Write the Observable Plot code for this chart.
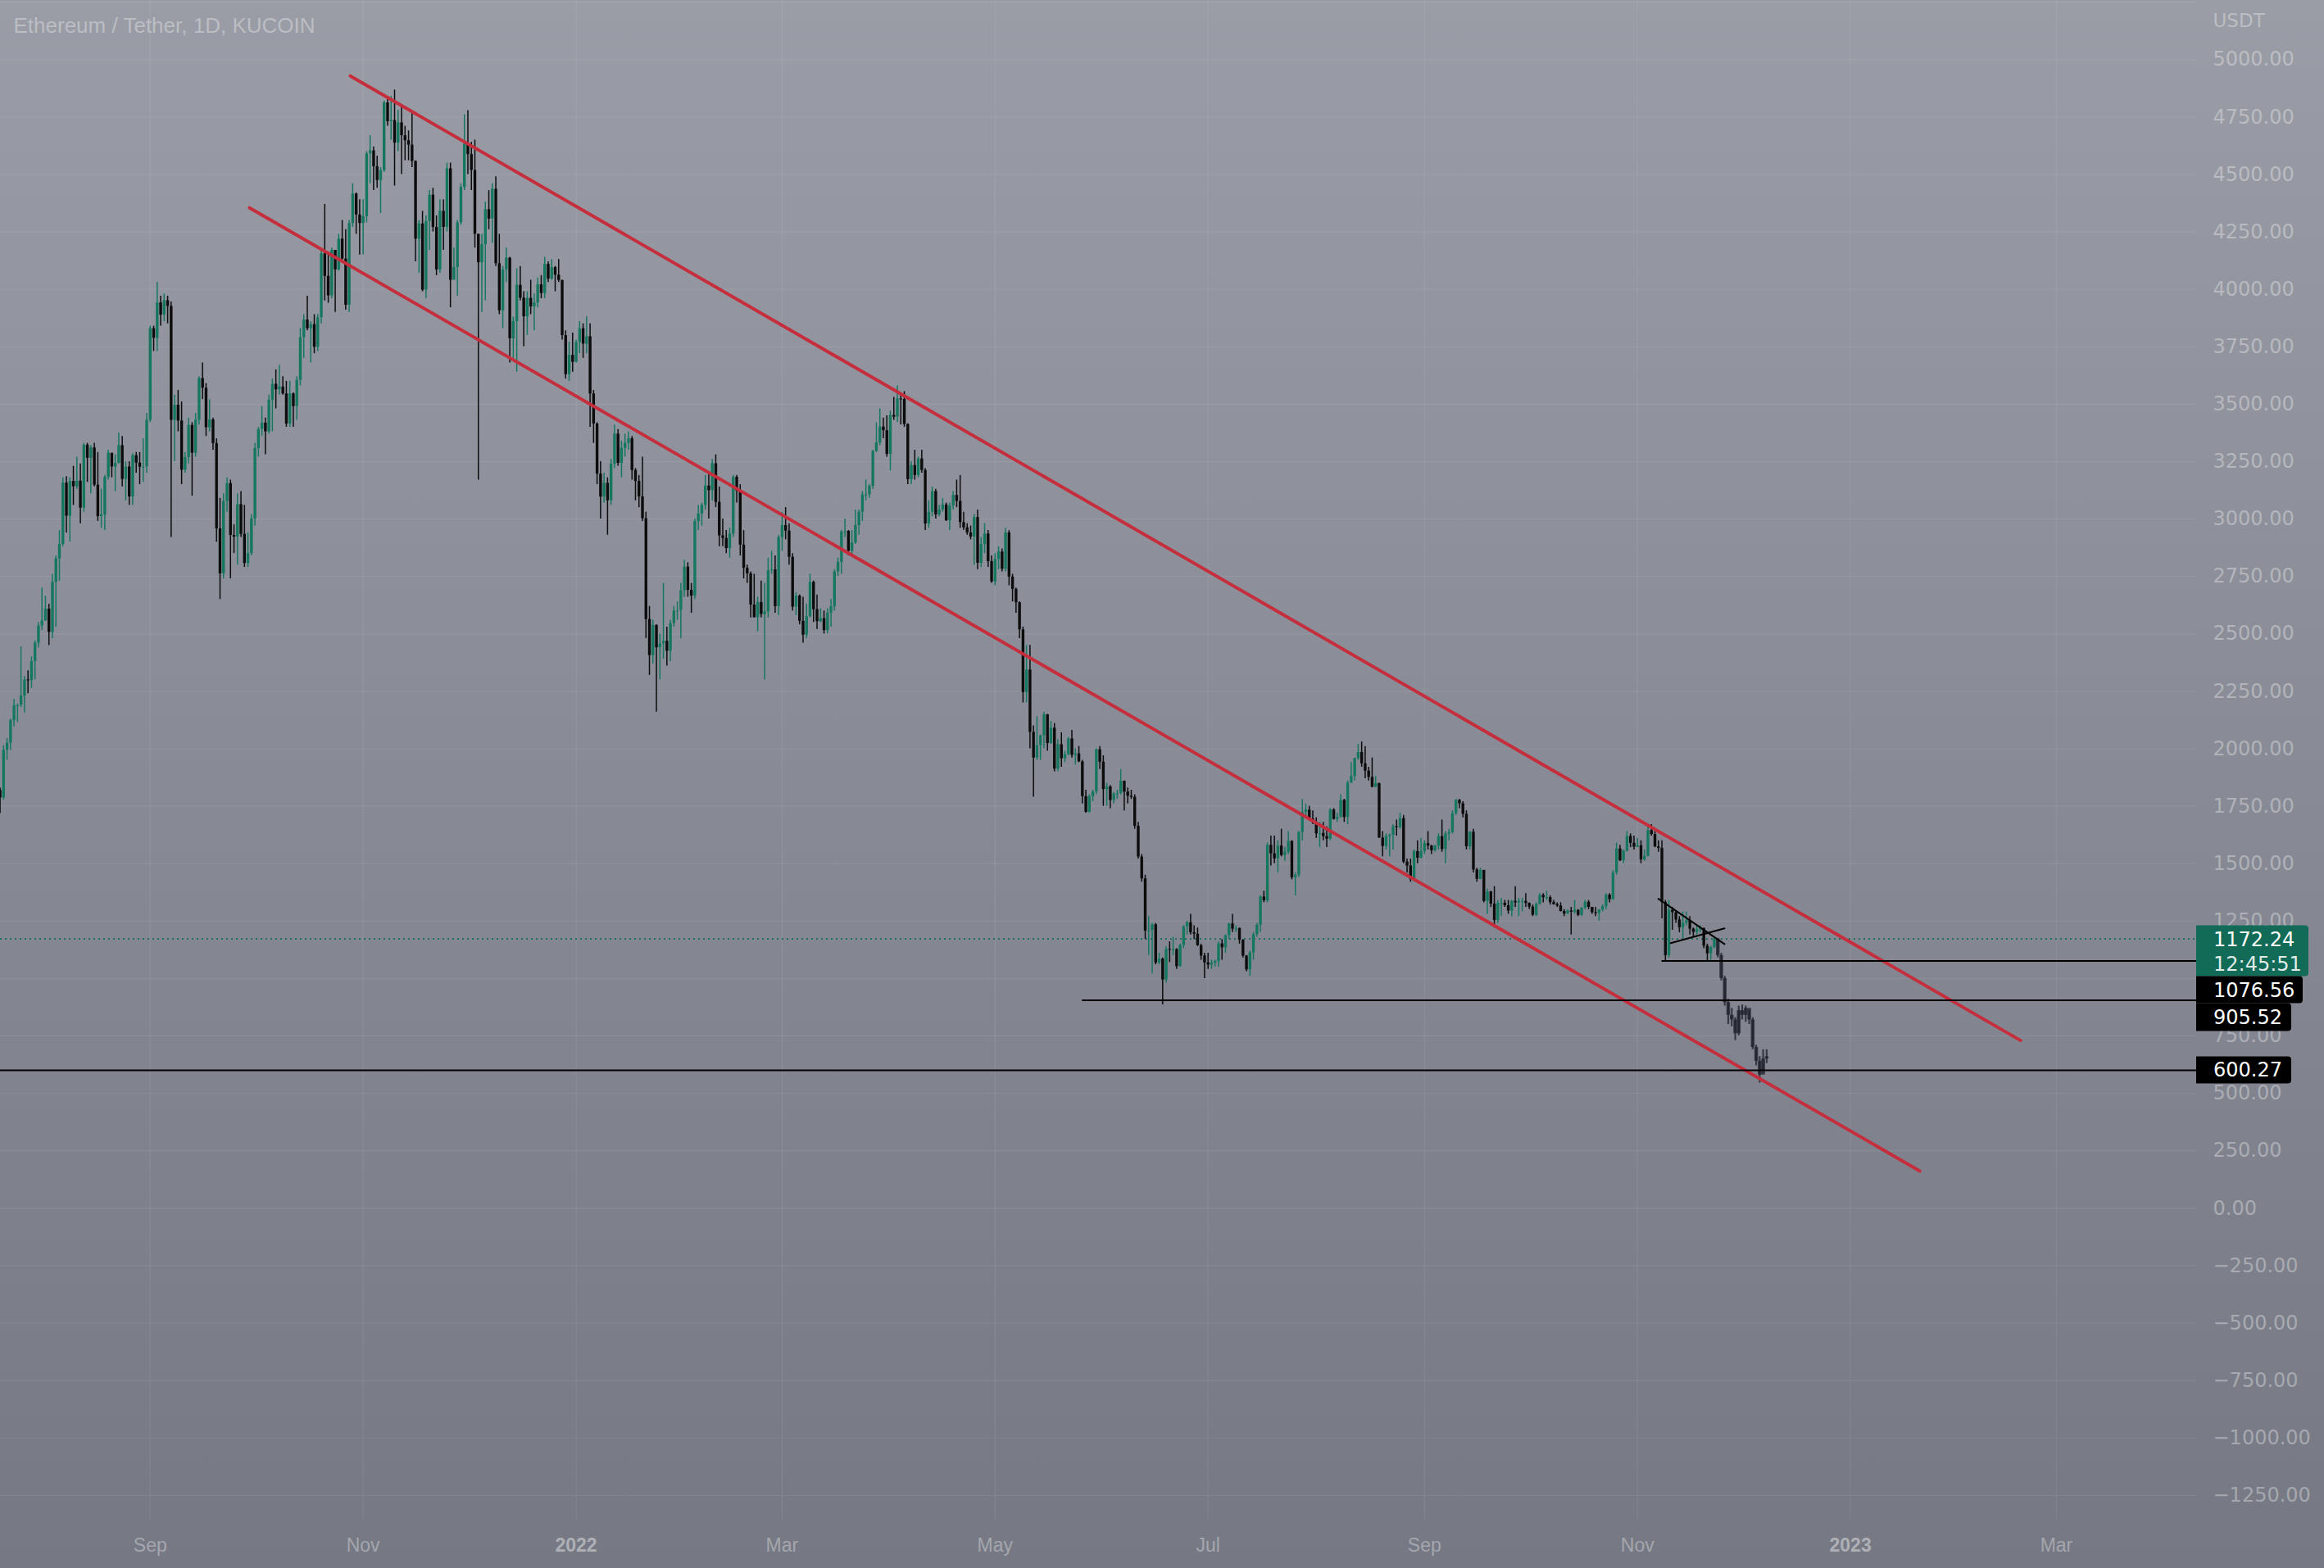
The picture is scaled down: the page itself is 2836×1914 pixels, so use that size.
<!DOCTYPE html>
<html><head><meta charset="utf-8">
<script src="https://cdn.jsdelivr.net/npm/d3@7"></script>
<script src="https://cdn.jsdelivr.net/npm/@observablehq/plot@0.6"></script>
<style>
html,body{margin:0;padding:0;}
body{width:2836px;height:1914px;overflow:hidden;background:linear-gradient(#9a9da6,#767984);}
#chart{position:absolute;left:0;top:0;}
</style></head>
<body><div id="chart"></div>
<script>
// ---------- DATA ----------
const title = "Ethereum / Tether, 1D, KUCOIN";
const currency = "USDT";
const firstDate = "2021-07-20";
const firstOpen = 1819;
// daily candles: [high, low, close]; open = previous close
const jul2021 = [[1830,1718,1786],[2013,1777,1994],[2045,1950,2025],[2130,1993,2123],[2215,2095,2188],[2195,2115,2190],[2444,2180,2230],[2315,2156,2300],[2340,2240,2297],[2400,2263,2380],[2470,2300,2460],[2550,2440,2535]];
const aug2021 = [[2700,2515,2557],[2665,2555,2608],[2630,2450,2507],[2760,2480,2725],[2840,2530,2827],[2950,2730,2890],[3180,2880,3157],[3185,2940,3013],[3180,2900,3164],[3230,3060,3141],[3270,3130,3165],[3240,2980,3048],[3330,3030,3322],[3330,3160,3265],[3320,3110,3310],[3330,3140,3148],[3290,2990,3011],[3130,2960,3018],[3190,2950,3182],[3300,3170,3287],[3280,3180,3227],[3280,3120,3243],[3375,3240,3320],[3360,3140,3173],[3250,3080,3227],[3250,3060,3097],[3285,3060,3276],[3290,3200,3244],[3290,3150,3226],[3350,3160,3228],[3460,3200,3430]];
const sep2021 = [[3840,3420,3829],[3840,3730,3787],[4030,3730,3941],[3970,3840,3888],[3980,3860,3951],[3970,3850,3926],[3945,2920,3430],[3540,3250,3496],[3560,3380,3427],[3510,3150,3213],[3290,3200,3268],[3440,3240,3408],[3420,3100,3287],[3460,3270,3431],[3620,3410,3612],[3680,3520,3570],[3590,3360,3398],[3520,3380,3432],[3440,3300,3329],[3350,2900,2958],[3090,2650,2762],[3110,2740,3077],[3180,3030,3155],[3170,2740,2929],[2975,2850,2922],[3110,2800,3063],[3120,2920,2934],[3060,2790,2807],[2940,2790,2850],[3020,2840,3001]];
const oct2021 = [[3330,2970,3307],[3400,3270,3390],[3490,3360,3418],[3440,3280,3380],[3540,3370,3518],[3610,3380,3587],[3650,3480,3563],[3670,3540,3575],[3620,3540,3545],[3600,3400,3414],[3600,3400,3545],[3550,3400,3490],[3620,3430,3604],[3830,3580,3790],[3890,3700,3867],[3970,3820,3829],[3860,3680,3847],[3890,3720,3748],[3890,3730,3877],[4170,3850,4155],[4370,3950,4057],[4160,3940,3972],[4180,3960,4170],[4170,3900,4085],[4240,4080,4219],[4300,4120,4132],[4260,3910,3931],[4300,3900,4287],[4460,4270,4415],[4420,4240,4324],[4390,4150,4287]];
const nov2021 = [[4390,4150,4317],[4600,4290,4590],[4670,4460,4603],[4620,4430,4534],[4580,4440,4474],[4530,4330,4517],[4820,4510,4812],[4830,4710,4730],[4840,4650,4735],[4868,4450,4637],[4780,4600,4725],[4800,4500,4669],[4710,4560,4647],[4690,4560,4628],[4770,4530,4557],[4560,4120,4219],[4300,4070,4285],[4340,3990,3997],[4320,3960,4296],[4430,4170,4410],[4440,4250,4270],[4320,4060,4085],[4390,4070,4340],[4390,4170,4270],[4550,4250,4525],[4550,3920,4040],[4180,4040,4095],[4300,3970,4290],[4460,4280,4445],[4760,4430,4632]];
const dec2021 = [[4778,4500,4587],[4640,4430,4518],[4650,4180,4240],[4240,3170,4116],[4240,3900,4195],[4380,3950,4347],[4430,4260,4306],[4460,4200,4436],[4490,4100,4112],[4240,3890,3907],[4100,3830,4085],[4180,4030,4136],[4140,3680,3785],[3880,3700,3860],[4090,3640,4018],[4100,3950,3962],[3990,3750,3881],[3990,3800,3961],[4040,3890,3924],[3980,3820,3941],[4050,3920,4020],[4060,3960,3982],[4140,3960,4109],[4120,4030,4045],[4130,4040,4095],[4100,3990,4062],[4130,4030,4039],[4040,3780,3799],[3820,3610,3629],[3770,3600,3713],[3810,3640,3683]];
const jan2022 = [[3780,3680,3769],[3860,3720,3829],[3850,3700,3762],[3880,3720,3794],[3850,3400,3545],[3560,3330,3414],[3420,3150,3196],[3250,3000,3096],[3200,3070,3156],[3180,2930,3080],[3260,3060,3239],[3410,3220,3370],[3390,3230,3243],[3340,3180,3308],[3370,3270,3330],[3380,3300,3350],[3360,3170,3212],[3220,3080,3164],[3190,3050,3097],[3270,2990,3002],[3030,2480,2563],[2620,2320,2406],[2560,2370,2537],[2540,2160,2440],[2500,2300,2457],[2720,2390,2468],[2530,2360,2425],[2560,2380,2545],[2620,2530,2600],[2640,2560,2603],[2720,2480,2688]];
const feb2022 = [[2820,2660,2791],[2810,2660,2690],[2720,2590,2665],[3000,2650,2989],[3060,2950,3022],[3070,2970,3060],[3190,3040,3144],[3200,3000,3124],[3260,3080,3241],[3280,3050,3073],[3140,2880,2927],[3000,2880,2916],[2950,2850,2872],[2960,2830,2935],[3190,2920,3182],[3190,3070,3122],[3150,2840,2887],[2950,2740,2786],[2800,2720,2762],[2770,2570,2626],[2760,2570,2571],[2660,2510,2637],[2730,2570,2585],[2720,2300,2596],[2830,2570,2775],[2860,2760,2779],[2840,2590,2619],[2930,2580,2920]];
const mar2022 = [[3030,2860,2972],[3050,2910,2948],[2980,2800,2834],[2850,2600,2617],[2680,2580,2665],[2670,2540,2555],[2660,2460,2495],[2630,2480,2575],[2760,2570,2725],[2730,2550,2606],[2670,2520,2554],[2610,2550,2567],[2600,2500,2515],[2610,2500,2591],[2650,2530,2619],[2780,2600,2770],[2830,2750,2812],[2950,2760,2944],[3000,2920,2947],[2950,2840,2860],[2950,2840,2896],[3040,2890,2972],[3040,2930,3030],[3120,2990,3105],[3170,3080,3106],[3150,3090,3143],[3300,3130,3295],[3420,3290,3332],[3480,3320,3401],[3440,3350,3385],[3450,3270,3282]];
const apr2022 = [[3470,3210,3451],[3530,3430,3444],[3580,3420,3523],[3540,3410,3521],[3555,3400,3412],[3415,3150,3172],[3250,3150,3233],[3300,3170,3190],[3270,3180,3262],[3300,3200,3212],[3220,2950,2979],[3080,2960,3030],[3140,3010,3120],[3130,3000,3019],[3060,3010,3040],[3090,3030,3062],[3070,2990,2993],[3070,2950,3058],[3120,3040,3103],[3170,3050,3077],[3190,2960,2985],[3030,2950,2962],[2980,2930,2940],[2970,2910,2922],[3020,2800,3007],[3040,2780,2808],[2920,2790,2889],[2980,2850,2935],[2950,2790,2815],[2840,2720,2727]];
const may2022 = [[2850,2710,2825],[2880,2780,2857],[2870,2770,2782],[2960,2770,2940],[2950,2710,2748],[2760,2640,2694],[2700,2590,2636],[2640,2480,2518],[2530,2200,2245],[2450,2200,2343],[2450,2000,2072],[2100,1790,1960],[2140,1950,2014],[2060,1950,2057],[2160,2000,2148],[2150,1990,2023],[2120,2020,2090],[2110,1900,1912],[2040,1900,2018],[2070,1920,1957],[1990,1940,1975],[2050,1970,2043],[2080,1960,1972],[2000,1930,1978],[2010,1940,1943],[1950,1760,1792],[1820,1720,1724],[1800,1720,1792],[1820,1770,1813],[2000,1800,1996],[2010,1910,1942]];
const jun2022 = [[1970,1750,1823],[1850,1750,1834],[1840,1740,1775],[1810,1760,1804],[1820,1780,1806],[1910,1800,1859],[1860,1730,1812],[1830,1760,1794],[1820,1780,1789],[1800,1650,1663],[1680,1520,1529],[1540,1420,1434],[1450,1170,1207],[1270,1100,1210],[1240,1020,1234],[1240,1060,1068],[1110,1060,1085],[1090,886,994],[1140,980,1127],[1160,1070,1126],[1180,1100,1126],[1130,1040,1052],[1150,1050,1144],[1230,1130,1225],[1250,1190,1243],[1280,1190,1199],[1230,1170,1193],[1220,1140,1143],[1150,1080,1098],[1110,1000,1068]];
const jul2022 = [[1110,1040,1059],[1080,1040,1067],[1080,1050,1074],[1160,1050,1151],[1170,1080,1134],[1190,1110,1187],[1240,1170,1238],[1280,1200,1215],[1230,1200,1218],[1220,1150,1167],[1170,1090,1098],[1100,1030,1038],[1120,1010,1112],[1200,1080,1191],[1240,1180,1232],[1360,1200,1355],[1380,1330,1339],[1590,1330,1580],[1620,1490,1543],[1620,1500,1521],[1600,1460,1577],[1650,1530,1536],[1570,1510,1550],[1640,1540,1597],[1600,1430,1439],[1460,1360,1450],[1640,1440,1636],[1780,1600,1724],[1760,1700,1733],[1750,1690,1695],[1730,1670,1679]];
const aug2022 = [[1700,1610,1630],[1680,1570,1632],[1680,1600,1618],[1660,1570,1607],[1740,1600,1734],[1740,1690,1693],[1720,1680,1701],[1800,1700,1776],[1780,1680,1701],[1860,1670,1851],[1940,1850,1880],[1960,1860,1958],[2020,1950,1984],[2030,1920,1935],[2010,1870,1903],[1920,1860,1876],[1960,1830,1833],[1880,1830,1849],[1850,1610,1612],[1640,1530,1575],[1630,1560,1619],[1630,1530,1624],[1670,1560,1661],[1690,1620,1657],[1720,1650,1696],[1710,1500,1507],[1520,1460,1490],[1520,1420,1431],[1560,1420,1553],[1600,1500,1524],[1610,1520,1553]];
const sep2022 = [[1600,1540,1587],[1640,1560,1577],[1580,1540,1556],[1580,1550,1577],[1630,1560,1618],[1690,1550,1562],[1640,1500,1629],[1650,1600,1635],[1730,1630,1718],[1780,1710,1776],[1780,1740,1761],[1770,1700,1715],[1730,1560,1574],[1640,1560,1637],[1650,1460,1473],[1480,1420,1432],[1480,1430,1471],[1470,1330,1336],[1390,1280,1377],[1380,1310,1324],[1400,1220,1253],[1340,1240,1327],[1350,1270,1328],[1340,1310,1317],[1340,1280,1294],[1340,1270,1336],[1400,1310,1330],[1350,1270,1336],[1350,1290,1336],[1370,1310,1327]];
const oct2022 = [[1330,1300,1311],[1320,1270,1276],[1330,1270,1323],[1370,1320,1362],[1370,1330,1352],[1380,1340,1352],[1360,1320,1331],[1340,1320,1322],[1330,1310,1316],[1330,1290,1292],[1300,1270,1281],[1300,1280,1294],[1310,1190,1289],[1340,1280,1297],[1300,1270,1275],[1310,1270,1306],[1340,1300,1332],[1340,1300,1310],[1310,1280,1287],[1310,1270,1283],[1300,1250,1299],[1320,1290,1314],[1370,1300,1363],[1370,1330,1344],[1470,1340,1460],[1590,1450,1564],[1580,1510,1513],[1560,1500,1555],[1640,1550,1619],[1630,1570,1589],[1620,1560,1572]];
const nov2022 = [[1610,1570,1578],[1600,1500,1517],[1560,1510,1532],[1670,1530,1644],[1670,1620,1627],[1640,1570,1573],[1600,1550,1567],[1600,1260,1331],[1340,1073,1100],[1340,1090,1298],[1310,1210,1287],[1290,1240,1255],[1270,1200,1221],[1290,1170,1241],[1290,1230,1252],[1270,1190,1215],[1220,1180,1201],[1230,1190,1212],[1230,1200,1218],[1220,1130,1141],[1150,1075,1108],[1140,1080,1135],[1180,1130,1172.24]];
// projected bars pattern (grey), [high, low, close], continuing daily after the last candle
const projection = [[1175,1090,1100],[1110,990,1000],[1010,880,895],[910,800,840],[870,790,820],[830,730,760],[880,750,860],[885,820,840],[880,810,870],[860,800,820],[830,690,700],[710,620,640],[660,545,580],[690,600,650],[690,630,660]];

// drawings
const channelUpper = [{date:"2021-10-28T07:26Z", price:4929},{date:"2023-02-18T18:00Z", price:730}];
const channelLower = [{date:"2021-09-29T10:48Z", price:4355},{date:"2023-01-20T21:00Z", price:162}];
const triangleUpper = [{date:"2022-11-07T00:00Z", price:1347},{date:"2022-11-25T22:00Z", price:1150}];
const triangleLower = [{date:"2022-11-10T12:00Z", price:1154},{date:"2022-11-25T22:00Z", price:1218}];
const levels = [{price:1076.56, from:"2022-11-08T00:00Z"},{price:905.52, from:"2022-05-26T00:00Z"},{price:600.27, from:null}];
const lastPrice = 1172.24;
const countdown = "12:45:51";

// axes
const xStart = "2021-07-20T02:24Z", xEnd = "2023-04-10T03:22Z";
const priceTicks = [5000,4750,4500,4250,4000,3750,3500,3250,3000,2750,2500,2250,2000,1750,1500,1250,750,500,250,0,-250,-500,-750,-1000,-1250];
const gridPrices = [5250,5000,4750,4500,4250,4000,3750,3500,3250,3000,2750,2500,2250,2000,1750,1500,1250,1000,750,500,250,0,-250,-500,-750,-1000,-1250];
const timeTicks = [
  {date:"2021-09-01", label:"Sep", year:false},{date:"2021-11-01", label:"Nov", year:false},
  {date:"2022-01-01", label:"2022", year:true},{date:"2022-03-01", label:"Mar", year:false},
  {date:"2022-05-01", label:"May", year:false},{date:"2022-07-01", label:"Jul", year:false},
  {date:"2022-09-01", label:"Sep", year:false},{date:"2022-11-01", label:"Nov", year:false},
  {date:"2023-01-01", label:"2023", year:true},{date:"2023-03-01", label:"Mar", year:false}
];

// ---------- BUILD ----------
const upColor = "#16775f", downColor = "#0c0c0d", redColor = "#c52e3d";
const projColor = "#1d2029";
const rows = [].concat(jul2021,aug2021,sep2021,oct2021,nov2021,dec2021,jan2022,feb2022,mar2022,apr2022,may2022,jun2022,jul2022,aug2022,sep2022,oct2022,nov2022);
const start = new Date(firstDate + "T00:00Z");
let prev = firstOpen;
const candles = rows.map((r,i) => { const c = {date: d3.utcDay.offset(start,i), open: prev, high: r[0], low: r[1], close: r[2]}; prev = r[2]; return c; });
const projected = projection.map((r,i) => { const c = {date: d3.utcDay.offset(start, rows.length + i), open: prev, high: r[0], low: r[1], close: r[2]}; prev = r[2]; return c; });
const parse = d => d == null ? new Date(xStart) : new Date(d);
const chan = a => a.map(d => ({date: new Date(d.date), price: d.price}));
const ticks = timeTicks.map(d => ({...d, date: new Date(d.date + "T00:00Z")}));
const lvl = levels.map(d => ({price: d.price, x1: parse(d.from), x2: new Date(xEnd)}));
const minBody = d => Math.abs(d.close - d.open) < 3.6 ? d.open - 3.6 : d.close;
const col = d => d.close >= d.open ? upColor : downColor;
const fmt = v => (v < 0 ? "\u2212" : "") + Math.abs(v).toFixed(2);
const axisFont = "DejaVu Sans";
const timeFont = "Liberation Sans, Arial, sans-serif";

const W = 2836, H = 1914, mR = 156, mB = 59;
const chart = Plot.plot({
  width: W, height: H, marginLeft: 0, marginRight: mR, marginTop: 0, marginBottom: mB,
  x: {type: "utc", domain: [new Date(xStart), new Date(xEnd)], axis: null},
  y: {domain: [-1357.6, 5257.8], axis: null},
  color: {type: "identity"},
  style: {background: "transparent", overflow: "visible"},
  marks: [
    Plot.ruleY(gridPrices, {stroke: "white", strokeOpacity: 0.075, strokeWidth: 1.2}),
    Plot.ruleX(ticks, {x: "date", stroke: "white", strokeOpacity: 0.075, strokeWidth: 1.2}),
    Plot.ruleY([lastPrice], {stroke: "#146a56", strokeWidth: 1.6, strokeDasharray: "2,4"}),
    // real candles
    Plot.ruleX(candles, {x: "date", y1: "low", y2: "high", stroke: col, strokeWidth: 1.5}),
    Plot.ruleX(candles, {x: "date", y1: "open", y2: minBody, stroke: col, strokeWidth: 3.4}),
    // projected bars
    Plot.ruleX(projected, {x: "date", y1: "low", y2: "high", stroke: projColor, strokeOpacity: 0.75, strokeWidth: 2.2}),
    Plot.ruleX(projected, {x: "date", y1: "open", y2: "close", stroke: projColor, strokeOpacity: 0.75, strokeWidth: 4.5}),
    // drawings
    Plot.line(chan(channelUpper), {x: "date", y: "price", stroke: redColor, strokeWidth: 4}),
    Plot.line(chan(channelLower), {x: "date", y: "price", stroke: redColor, strokeWidth: 4}),
    Plot.line(chan(triangleUpper), {x: "date", y: "price", stroke: "#000", strokeWidth: 2}),
    Plot.line(chan(triangleLower), {x: "date", y: "price", stroke: "#000", strokeWidth: 2}),
    Plot.ruleY(lvl, {y: "price", x1: "x1", x2: "x2", stroke: "#000", strokeWidth: 2}),
    // texts
    Plot.text([title], {frameAnchor: "top-left", dx: 16, dy: 31, text: d => d, textAnchor: "start", lineAnchor: "middle", fontSize: 26, fontFamily: timeFont, fill: "white", fillOpacity: 0.34}),
    Plot.text([currency], {frameAnchor: "top-right", dx: 20, dy: 25, text: d => d, textAnchor: "start", lineAnchor: "middle", fontSize: 23, fontFamily: axisFont, fill: "white", fillOpacity: 0.34}),
    Plot.text(priceTicks, {y: d => d, frameAnchor: "right", dx: 20, text: fmt, textAnchor: "start", lineAnchor: "middle", fontSize: 24, fontFamily: axisFont, fill: "white", fillOpacity: 0.34}),
    Plot.text(ticks.filter(d => !d.year), {x: "date", frameAnchor: "bottom", dy: 31, text: "label", lineAnchor: "middle", fontSize: 23, fontFamily: timeFont, fill: "white", fillOpacity: 0.34}),
    Plot.text(ticks.filter(d => d.year), {x: "date", frameAnchor: "bottom", dy: 31, text: "label", lineAnchor: "middle", fontSize: 23, fontWeight: "bold", fontFamily: timeFont, fill: "white", fillOpacity: 0.42})
  ]
});
document.getElementById("chart").appendChild(chart);

// price labels on the scale (stacked like the platform does)
const y = chart.scale("y");
const svg = d3.select(chart);
const g = svg.append("g").attr("font-family", axisFont).attr("font-size", 24).attr("text-anchor", "start");
const x0 = W - mR;
const y0 = y.apply(lastPrice);
const boxes = [
  {top: y0 - 16, h: 62, w: 137, fill: "#126b57", lines: [fmt(lastPrice), countdown]},
  {top: y0 + 46, h: 33, w: 130, fill: "#000", lines: [fmt(levels[0].price)]},
  {top: y0 + 79, h: 34, w: 116, fill: "#000", lines: [fmt(levels[1].price)]},
  {top: y.apply(levels[2].price) - 16.5, h: 33, w: 116, fill: "#000", lines: [fmt(levels[2].price)]}
];
boxes.forEach(b => {
  g.append("path").attr("fill", b.fill)
    .attr("d", `M${x0},${b.top}h${b.w-4}q4,0 4,4v${b.h-8}q0,4 -4,4h${-(b.w-4)}z`);
  b.lines.forEach((t, i) => {
    g.append("text").attr("x", x0 + 21).attr("y", b.top + 16.5 + i * 30)
      .attr("dy", "0.35em").attr("text-anchor", "start").attr("fill", "white")
      .attr("fill-opacity", i ? 0.88 : 1).text(t);
  });
});
</script></body></html>
